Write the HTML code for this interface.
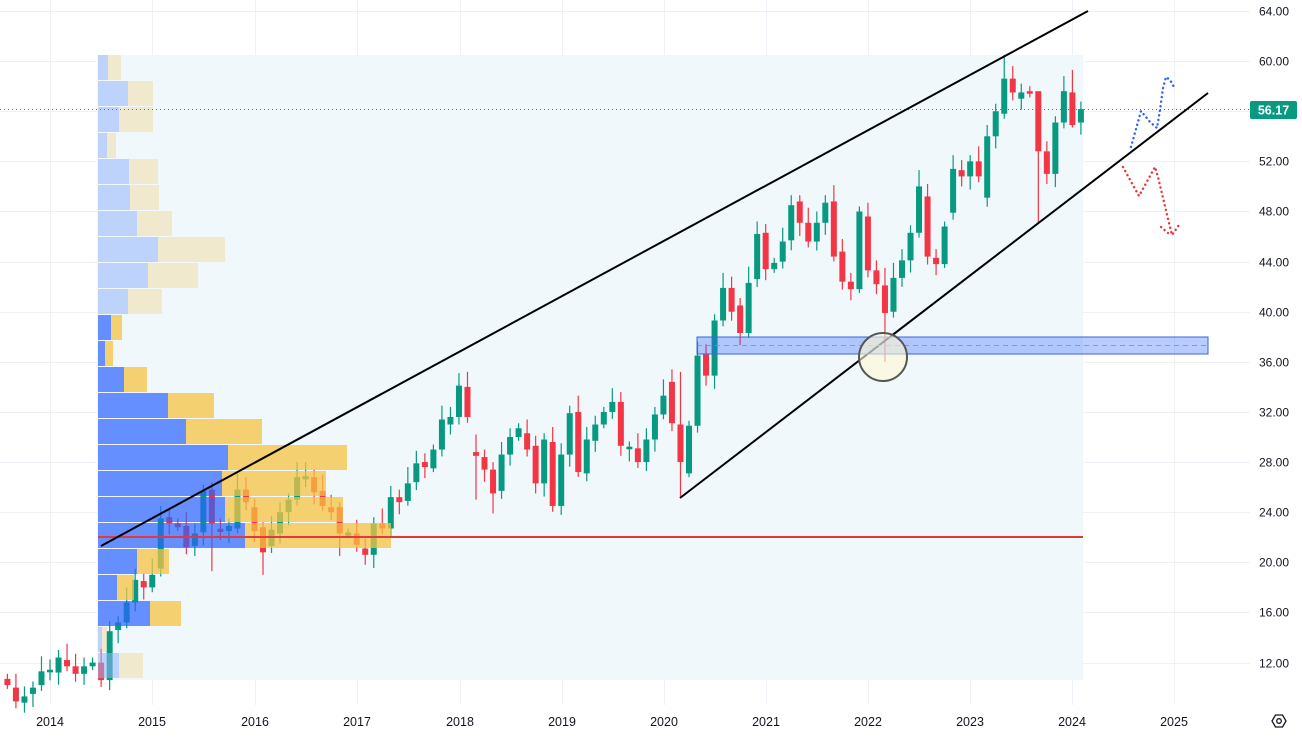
<!DOCTYPE html>
<html><head><meta charset="utf-8"><style>
html,body{margin:0;padding:0;background:#fff;}
svg{display:block;font-family:"Liberation Sans",sans-serif;}
</style></head><body>
<svg id="c" width="1302" height="739" viewBox="0 0 1302 739" xmlns="http://www.w3.org/2000/svg">
<rect width="1302" height="739" fill="#fff"/>
<g id="grid" stroke="#eef1f6" stroke-width="1"></g>
<rect x="97" y="55" width="986" height="625" fill="#f0f8fc"/>
<g id="candles"></g>
<g id="profile"></g>
<line x1="98" y1="537" x2="1083" y2="537" stroke="#e5383b" stroke-width="2"/>
<line x1="0" y1="109.5" x2="1250" y2="109.5" stroke="#089981" stroke-width="1" stroke-dasharray="1,3"/>
<line x1="101" y1="546" x2="1088" y2="11" stroke="#000" stroke-width="2"/>
<line x1="680" y1="498" x2="1208" y2="93" stroke="#000" stroke-width="2"/>
<rect x="697" y="337" width="511" height="17" fill="rgba(41,98,255,0.33)" stroke="#3a66d8" stroke-width="1"/>
<line x1="697" y1="345.5" x2="1208" y2="345.5" stroke="#7a9a8a" stroke-width="1" stroke-dasharray="5,4" opacity="0.8"/>
<circle cx="883" cy="357" r="24" fill="rgba(255,248,210,0.6)" stroke="#555" stroke-width="2"/>
<polyline points="1131,147 1141,111 1150,122 1157,128 1160,110 1163,88 1166,77 1170,80 1174,87" fill="none" stroke="#2962ff" stroke-width="2.4" stroke-dasharray="0.1,4.5" stroke-linecap="round"/>
<polyline points="1123,167 1139,196 1155,167 1158,177 1170,227 1172,235 1179,225" fill="none" stroke="#e5383b" stroke-width="2.4" stroke-dasharray="0.1,4.5" stroke-linecap="round"/>
<polyline points="1161,227 1168,233" fill="none" stroke="#e5383b" stroke-width="2.4" stroke-dasharray="0.1,4.5" stroke-linecap="round"/>
<g id="labels" font-size="12" fill="#131722"></g>
<rect x="1250" y="101" width="47" height="18" rx="2" fill="#089981"/>
<text x="1273.5" y="114.5" font-size="12.5" font-weight="bold" fill="#fff" text-anchor="middle">56.17</text>
<g transform="translate(1279,721)" fill="none" stroke="#131722" stroke-width="1.3">
<polygon points="-7,0 -3.5,-6 3.5,-6 7,0 3.5,6 -3.5,6"/><circle r="2.3"/>
</g>
</svg>
<script>
var NS="http://www.w3.org/2000/svg";
function el(t,a,p){var e=document.createElementNS(NS,t);for(var k in a)e.setAttribute(k,a[k]);p.appendChild(e);return e;}
function Y(p){return 11+(64-p)*12.53;}
var grid=document.getElementById('grid'),lab=document.getElementById('labels');
var years=[[2014,50],[2015,152],[2016,255],[2017,357],[2018,460],[2019,562],[2020,664],[2021,766],[2022,868],[2023,970],[2024,1072],[2025,1174]];
years.forEach(function(y){el('line',{x1:y[1]+.5,y1:0,x2:y[1]+.5,y2:705},grid);var t=el('text',{x:y[1],y:726,'text-anchor':'middle','font-size':'12.5'},lab);t.textContent=y[0];});
for(var p=12;p<=64;p+=4){var yy=Math.round(Y(p))+.5;el('line',{x1:0,y1:yy,x2:1250,y2:yy},grid);var t=el('text',{x:1289,y:yy+4,'text-anchor':'end'},lab);t.textContent=p.toFixed(2);}
var d=[[10.7,10.2],[10.0,8.9],[8.8,9.3],[9.5,10],[10.2,11.3],[11.3,11.35],[11.2,12.4],[12.2,11.7],[11.7,11.1],[11.1,11.7],[11.7,12],[12,10.6],[10.6,14.5],
[14.6,15.2],[15.2,16.8],[16.8,18.6],[18.5,18],[18,19],[19.5,23.5],[23.6,23.1],[23.1,22.8],[22.9,21.2],[21.3,22.3],[22.4,25.7],[25.8,23.1],[22.6,22.5],[22.5,22.9],[22.7,25.8],[25.8,24.8],
[24.4,22.5],[22.8,20.8],[21.3,22.6],[22.3,24],[24,25],[25,26.8],[26.7,26.8],[26.8,25.6],[25.7,24.5],[24.4,24],[24.4,22.3],[22.2,22.3],[22.3,21.4],[21.1,20.6],[20.6,23.1],[23.1,22.7],[22.7,25.2],
[25.2,24.8],[24.9,26.3],[26.4,27.9],[28,27.6],[27.5,29],[29,31.4],[31,31.6],[31.6,34.1],[34,31.6],[28.8,28.5],[28.4,27.4],[27.4,25.5],[25.7,28.6],[28.6,30],[30,30.7],[30.3,29],[29.3,26.3],[26.3,29.8],[29.6,24.5],[24.5,28.6],
[28.6,31.9],[32,27.2],[27.1,29.8],[29.7,31],[31,32],[32,32.8],[32.8,29.3],[29.1,29.15],[29.1,28],[28,29.8],[29.8,31.8],[31.8,33.3],[34.4,31.1],[31,28],[27.1,30.9],[30.9,36.5],[36.6,34.9],[34.9,39.3],[39.3,41.9],[41.9,40],
[40.5,38.3],[38.3,42.3],[42.6,46.2],[46.3,43.4],[43.4,43.9],[44,45.6],[45.7,48.5],[48.8,47.1],[47.1,45.6],[45.6,47.1],[47.1,48.7],[48.8,44.4],[44.8,42.4],[42.4,41.8],[41.8,48],[47.6,43.3],[43.3,42.2],[42.1,39.9],[40,42.7],[42.7,44.1],
[44.1,46.3],[46.3,50],[49.2,44.4],[44.3,43.8],[43.8,46.8],[47.9,51.4],[51.3,50.8],[50.8,52],[52,50.8],[49.1,54],[54,56],[55.8,58.6],[58.6,57.5],[57,57.5],[57.6,57.4],[57.6,52.8],[52.8,51],[51,55.1],[55.1,57.6],[57.5,54.9],[55.1,56.17]];
var special={24:[26.4,19.3],30:[23.2,19],35:[28,26],39:[24.8,20.5],53:[35.1,31],55:[30.2,25],57:[28,23.9],79:[35.2,25.1],103:[43.5,36],117:[60.5,55.4],121:[52.8,47],125:[59.3,54.7]};
var cg=document.getElementById('candles');
d.forEach(function(c,k){var i=k-5;var x=50+i*8.52;var o=c[0],cl=c[1];var hi=Math.max(o,cl),lo=Math.min(o,cl);
var w=0.4+((k*37)%10)/10;var H=hi+w,L=lo-(0.3+((k*53)%10)/12);
if(special[k]){H=special[k][0];L=special[k][1];}
var col=cl>=o?'#089981':'#f23645';
el('line',{x1:x,y1:Y(H),x2:x,y2:Y(L),stroke:col,'stroke-width':1.2},cg);
var yt=Y(hi),yb=Y(lo);if(yb-yt<2){yt-=1;yb+=1;}
el('rect',{x:x-3,y:yt,width:6,height:yb-yt,fill:col},cg);});
var rows=[[108,121,1],[128,153,1],[119,153,1],[107,116,1],[129,158,1],[130,159,1],[137,172,1],[158,225,1],[148,198,1],[128,162,1],
[111,122,0],[105,113,0],[124,147,0],[168,214,0],[186,262,0],[228,347,0],[222,326,0],[225,343,0],[245,391,0],[137,169,0],[117,134,0],[150,181,0],[102,107,1],[119,143,1]];
var pg=document.getElementById('profile');
rows.forEach(function(r,i){var y=55+i*26,h=25;
var b=r[2]?'rgba(150,180,250,0.55)':'rgba(41,98,255,0.7)',yl=r[2]?'rgba(240,215,150,0.45)':'rgba(246,195,65,0.75)';
el('rect',{x:98,y:y,width:r[0]-98,height:h,fill:b},pg);el('rect',{x:r[0],y:y,width:r[1]-r[0],height:h,fill:yl},pg);});
</script>
</body></html>
